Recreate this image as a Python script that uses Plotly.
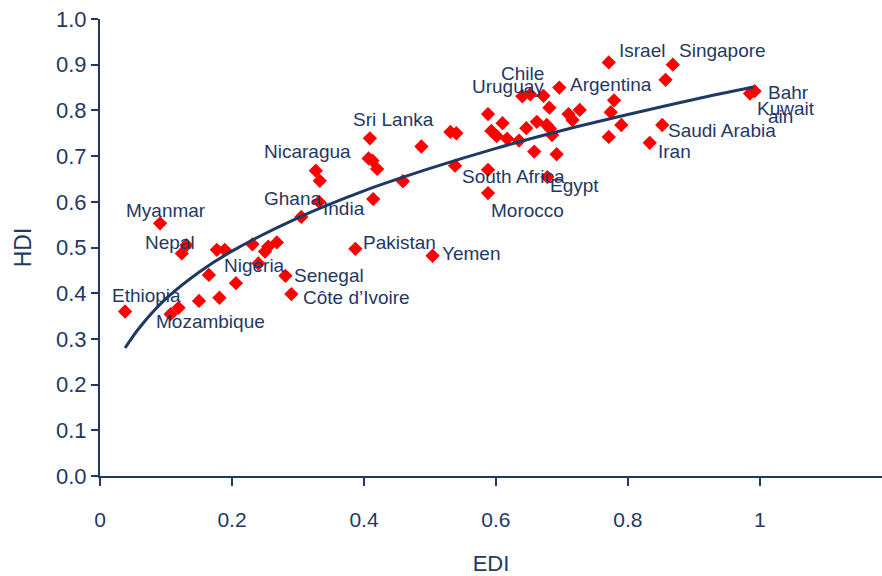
import plotly.graph_objects as go

# Country points (EDI, HDI)
edi = [0.038, 0.091, 0.124, 0.131, 0.107, 0.119, 0.150, 0.181, 0.165, 0.206,
       0.177, 0.189, 0.231, 0.240, 0.250, 0.255, 0.268, 0.281, 0.290, 0.305,
       0.332, 0.327, 0.333, 0.387, 0.409, 0.407, 0.413, 0.420, 0.414, 0.459,
       0.487, 0.504, 0.531, 0.540, 0.538, 0.588, 0.588, 0.588, 0.593, 0.601,
       0.610, 0.617, 0.635, 0.646, 0.640, 0.652, 0.658, 0.662, 0.672, 0.677,
       0.681, 0.682, 0.685, 0.678, 0.692, 0.696, 0.710, 0.716, 0.727, 0.771,
       0.774, 0.779, 0.771, 0.790, 0.833, 0.852, 0.857, 0.868, 0.985, 0.992]
hdi = [0.360, 0.553, 0.487, 0.505, 0.354, 0.368, 0.383, 0.390, 0.440, 0.422,
       0.495, 0.495, 0.507, 0.465, 0.491, 0.502, 0.511, 0.438, 0.398, 0.567,
       0.600, 0.668, 0.646, 0.497, 0.739, 0.695, 0.690, 0.672, 0.606, 0.645,
       0.721, 0.482, 0.753, 0.750, 0.679, 0.670, 0.619, 0.792, 0.755, 0.744,
       0.772, 0.738, 0.734, 0.761, 0.831, 0.835, 0.710, 0.775, 0.832, 0.768,
       0.806, 0.760, 0.746, 0.654, 0.704, 0.850, 0.792, 0.779, 0.801, 0.905,
       0.796, 0.822, 0.742, 0.768, 0.729, 0.768, 0.867, 0.900, 0.837, 0.842]

# Trend curve
curve_x = [0.038, 0.06, 0.1, 0.15, 0.2, 0.3, 0.4, 0.5, 0.6, 0.7, 0.8, 0.9, 0.99]
curve_y = [0.280, 0.325, 0.388, 0.446, 0.492, 0.565, 0.624, 0.673, 0.717, 0.756, 0.791, 0.824, 0.851]

# Country labels and where their text starts
label_text = ["Israel", "Singapore", "Chile", "Uruguay", "Argentina", "Bahr", "Kuwait", "ain",
              "Saudi Arabia", "Iran", "Sri Lanka", "Nicaragua", "South Africa", "Egypt",
              "Morocco", "Ghana", "India", "Myanmar", "Nepal", "Pakistan", "Yemen",
              "Nigeria", "Senegal", "Côte d’Ivoire", "Ethiopia", "Mozambique"]
label_x = [0.783, 0.874, 0.605, 0.561, 0.709, 1.009, 0.992, 1.009,
           0.858, 0.842, 0.380, 0.245, 0.545, 0.679,
           0.589, 0.245, 0.335, 0.036, 0.065, 0.395, 0.515,
           0.185, 0.291, 0.305, 0.015, 0.082]
label_y = [0.932, 0.932, 0.880, 0.853, 0.856, 0.840, 0.805, 0.786,
           0.757, 0.709, 0.781, 0.709, 0.656, 0.635,
           0.582, 0.608, 0.586, 0.582, 0.512, 0.510, 0.486,
           0.460, 0.438, 0.390, 0.394, 0.337]

x_ticks = [0, 0.2, 0.4, 0.6, 0.8, 1]
x_tick_labels = ["0", "0.2", "0.4", "0.6", "0.8", "1"]
y_ticks = [0.0, 0.1, 0.2, 0.3, 0.4, 0.5, 0.6, 0.7, 0.8, 0.9, 1.0]
y_tick_labels = ["0.0", "0.1", "0.2", "0.3", "0.4", "0.5", "0.6", "0.7", "0.8", "0.9", "1.0"]

navy = "#1f3864"
font_family = "Liberation Sans, Arial, sans-serif"

fig = go.Figure()
fig.add_trace(go.Scatter(x=edi, y=hdi, mode="markers",
                         marker=dict(symbol="diamond", size=11, color="#ff0000", line=dict(width=0)),
                         showlegend=False, hoverinfo="x+y"))
fig.add_trace(go.Scatter(x=curve_x, y=curve_y, mode="lines",
                         line=dict(color=navy, width=3, shape="spline"),
                         showlegend=False))

for t, lx, ly in zip(label_text, label_x, label_y):
    fig.add_annotation(x=lx, y=ly, text=t, showarrow=False, xanchor="left", yanchor="middle",
                       font=dict(family=font_family, size=19, color=navy))

fig.update_layout(
    width=882, height=576,
    margin=dict(l=100, r=0, t=19, b=100),
    plot_bgcolor="white", paper_bgcolor="white",
    font=dict(family=font_family, color=navy),
    xaxis=dict(range=[0, 1.185], tickvals=x_ticks, ticktext=x_tick_labels, automargin=False,
               showgrid=False, zeroline=False, showline=True, linecolor=navy, linewidth=2,
               ticks="outside", ticklen=8, tickwidth=2, tickcolor=navy, ticklabelstandoff=16,
               tickfont=dict(size=21, color=navy, family=font_family),
               title=dict(text="EDI", font=dict(size=22, color=navy, family=font_family), standoff=26)),
    yaxis=dict(range=[0, 1.0], tickvals=y_ticks, ticktext=y_tick_labels, automargin=False,
               showgrid=False, zeroline=False, showline=True, linecolor=navy, linewidth=2,
               ticks="outside", ticklen=7, tickwidth=2, tickcolor=navy,
               tickfont=dict(size=22, color=navy, family=font_family),
               title=dict(text="HDI", font=dict(size=23, color=navy, family=font_family), standoff=18)),
)

fig.write_html("out.html", config={"displayModeBar": False},
               post_script="document.body.style.margin='0px';")
